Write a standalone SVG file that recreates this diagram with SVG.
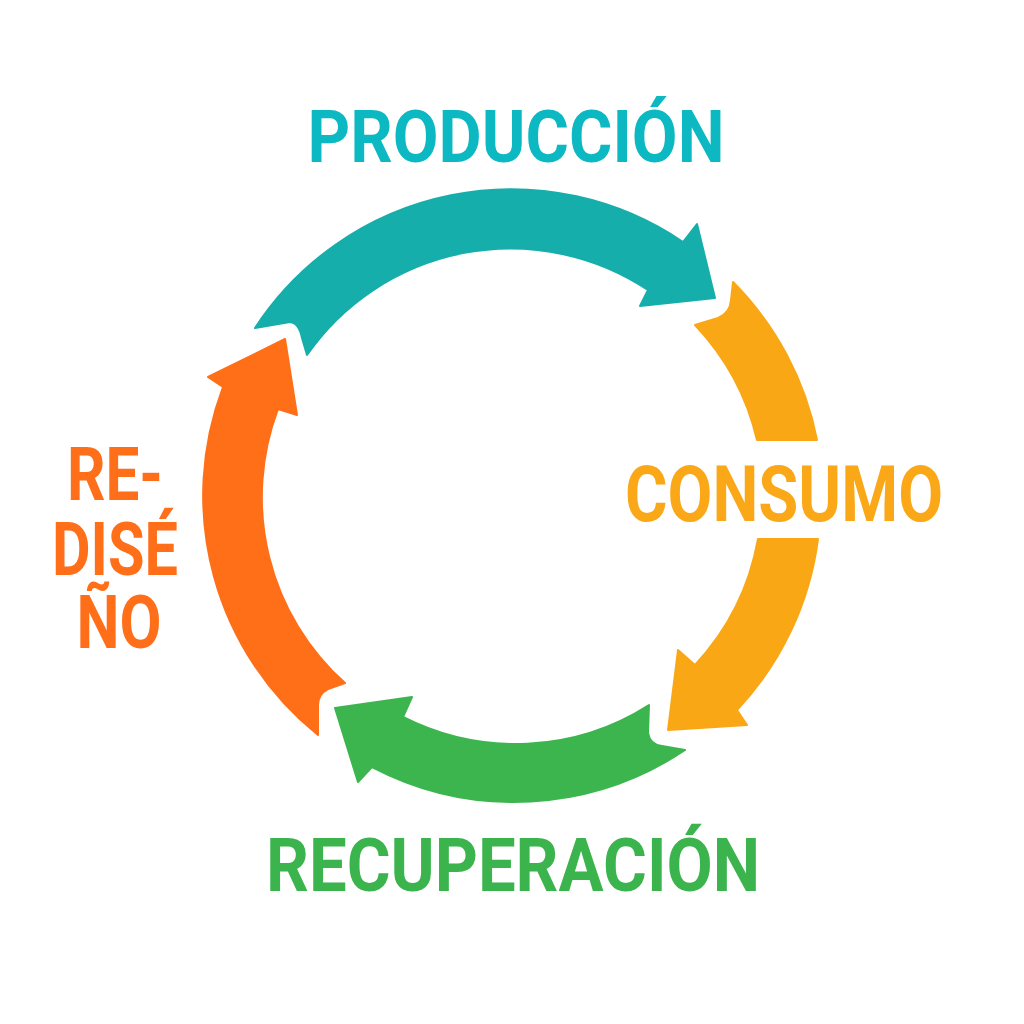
<svg xmlns="http://www.w3.org/2000/svg" width="1024" height="1024" viewBox="0 0 1024 1024">
<style>
.lbl{font-family:Roboto,"Liberation Sans",sans-serif;font-weight:700;text-anchor:middle}
.arr{stroke-width:2;stroke-linejoin:round}
</style>
<rect width="1024" height="1024" fill="#ffffff"/>
<g id="connectors">
<path id="arrow-produccion" class="arr" fill="#16AEAB" stroke="#16AEAB" d="M255,328 A306,306 0 0 1 683,242 L697,224 L715,298 L640,306 L648,290 A248,248 0 0 0 307,355 L302,338 Q299,323 290,322 Z"/>
<path id="arrow-consumo-a" class="arr" fill="#FAA716" stroke="#FAA716" d="M733,282 A308,308 0 0 1 817,440 L757,440 A250,250 0 0 0 695,325 L718,318 Q730,313 731,300 Z"/>
<path id="arrow-consumo-b" class="arr" fill="#FAA716" stroke="#FAA716" d="M818,539 A308,308 0 0 1 737,710 L747,725 L668,730 L678,650 L695,665 A250,250 0 0 0 758,539 Z"/>
<path id="arrow-recuperacion" class="arr" fill="#3DB54F" stroke="#3DB54F" d="M685,750 A307,307 0 0 1 372,767 L358,782 L335,708 L412,697 L403,717 A248,248 0 0 0 649,705 L648,733 Q650,745 662,746 Z"/>
<path id="arrow-rediseno" class="arr" fill="#FF6F18" stroke="#FF6F18" d="M318,735 A307,307 0 0 1 223,387 L208,377 L285,339 L297,415 L278,409 A249,249 0 0 0 345,683 L328,689 Q318,694 318,705 Z"/>
</g>
<g id="node-produccion">
<text class="lbl" x="516" y="162" font-size="73" fill="#0CB8C2" textLength="417" lengthAdjust="spacingAndGlyphs">PRODUCCIÓN</text>
</g>
<g id="node-consumo">
<text class="lbl" x="784" y="521" font-size="78" fill="#FAA718" textLength="318" lengthAdjust="spacingAndGlyphs">CONSUMO</text>
</g>
<g id="node-recuperacion">
<text class="lbl" x="513" y="891" font-size="74" fill="#3CB44E" textLength="494" lengthAdjust="spacingAndGlyphs">RECUPERACIÓN</text>
</g>
<g id="node-rediseno">
<text class="lbl" font-size="74" fill="#FF6F1A"><tspan x="115" y="500" textLength="96" lengthAdjust="spacingAndGlyphs">RE-</tspan><tspan x="115" y="575" textLength="126" lengthAdjust="spacingAndGlyphs">DISÉ</tspan><tspan x="119" y="648" textLength="85" lengthAdjust="spacingAndGlyphs">ÑO</tspan></text>
</g>
</svg>
